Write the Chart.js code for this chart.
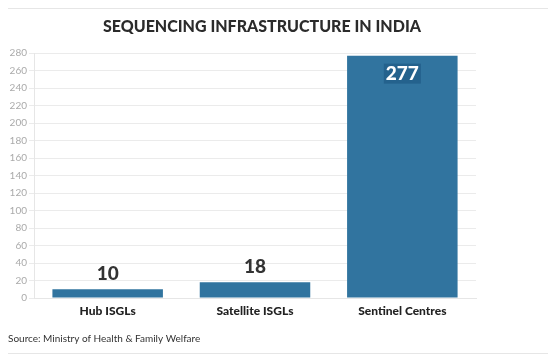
<!DOCTYPE html>
<html>
<head>
<meta charset="utf-8">
<script src="https://cdn.jsdelivr.net/npm/chart.js@4/dist/chart.umd.min.js"></script>
<style>
  html, body { margin: 0; padding: 0; background: #fff; }
  #wrap { width: 556px; height: 360px; }
</style>
</head>
<body>
<div id="wrap"><canvas id="seqChart" width="556" height="360"></canvas></div>
<script>
const categories = ['Hub ISGLs', 'Satellite ISGLs', 'Sentinel Centres'];
const centres = [10, 18, 277];
const yTicks = [0, 20, 40, 60, 80, 100, 120, 140, 160, 180, 200, 220, 240, 260, 280];

const chartTitle = 'SEQUENCING INFRASTRUCTURE IN INDIA';
const sourceNote = 'Source: Ministry of Health & Family Welfare';

// value labels: above short bars, inside tall ones
const valueLabels = {
  id: 'valueLabels',
  afterDatasetsDraw(chart) {
    const ctx = chart.ctx;
    const meta = chart.getDatasetMeta(0);
    ctx.save();
    ctx.textAlign = 'center';
    ctx.textBaseline = 'middle';
    ctx.font = '900 19px Lato';
    meta.data.forEach((bar, i) => {
      const txt = String(centres[i]);
      const h = bar.base - bar.y;
      if (h > 40) {
        const w = ctx.measureText(txt).width;
        const cy = bar.y + 18;
        ctx.fillStyle = '#24628d';
        ctx.fillRect(bar.x - w / 2 - 2, cy - 10, w + 4, 20);
        ctx.fillStyle = '#ffffff';
        ctx.fillText(txt, bar.x, cy);
      } else {
        ctx.fillStyle = '#333333';
        ctx.fillText(txt, bar.x, bar.y - 15);
      }
    });
    ctx.restore();
  }
};

// title, source line and the thin rules around the graphic
const frame = {
  id: 'frame',
  afterDraw(chart) {
    const ctx = chart.ctx;
    ctx.save();
    ctx.strokeStyle = '#e6e6e6';
    ctx.lineWidth = 1;
    ctx.beginPath();
    ctx.moveTo(8, 8.5); ctx.lineTo(548, 8.5);
    ctx.moveTo(8, 353.5); ctx.lineTo(548, 353.5);
    ctx.stroke();

    ctx.fillStyle = '#2b2b2b';
    ctx.font = '900 16px Lato';
    ctx.textAlign = 'center';
    ctx.textBaseline = 'middle';
    ctx.fillText(chartTitle, 262, 27);

    ctx.fillStyle = '#333333';
    ctx.font = '10px Lato';
    ctx.textAlign = 'left';
    ctx.fillText(sourceNote, 8, 339);
    ctx.restore();
  }
};

const ctx = document.getElementById('seqChart').getContext('2d');
new Chart(ctx, {
  type: 'bar',
  data: {
    labels: categories,
    datasets: [{
      data: centres,
      backgroundColor: '#31749f',
      categoryPercentage: 1,
      barPercentage: 0.75
    }]
  },
  options: {
    responsive: false,
    animation: false,
    layout: { padding: { left: 0, right: 80, top: 53, bottom: 40 } },
    plugins: {
      legend: { display: false },
      tooltip: { enabled: false }
    },
    scales: {
      x: {
        grid: { display: false, drawTicks: false, tickLength: 0 },
        border: { color: '#e6e6e6' },
        afterFit(axis) { axis.height = 22; },
        ticks: {
          color: '#222222',
          font: { family: 'Lato', size: 12, weight: '900' },
          padding: 6
        }
      },
      y: {
        min: 0,
        max: 280,
        afterBuildTicks(axis) { axis.ticks = yTicks.map(v => ({ value: v })); },
        afterFit(axis) { axis.width = 34; },
        grid: { color: '#ebebeb', tickLength: 5 },
        border: { color: '#e6e6e6' },
        ticks: {
          color: '#aaaaaa',
          font: { family: 'Lato', size: 10 },
          padding: 2
        }
      }
    }
  },
  plugins: [valueLabels, frame]
});
</script>
</body>
</html>
